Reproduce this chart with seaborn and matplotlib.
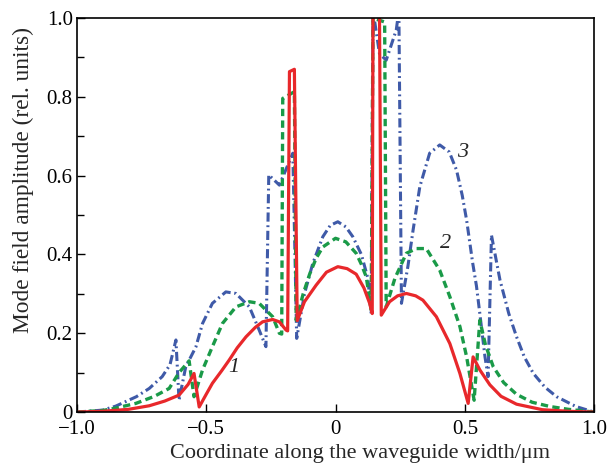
import matplotlib
matplotlib.use("Agg")
import matplotlib.pyplot as plt
import seaborn as sns
import pandas as pd
from matplotlib.ticker import MultipleLocator, FixedLocator

# ---- data ----
x1 = [-1.0, -0.9, -0.8, -0.72, -0.66, -0.605, -0.57, -0.547, -0.527, -0.5, -0.476, -0.44,
      -0.411, -0.38, -0.346, -0.31, -0.282, -0.243, -0.217, -0.191, -0.185,
      -0.178, -0.159, -0.148, -0.12, -0.075, -0.035, 0.009, 0.045, 0.08, 0.11, 0.132, 0.142,
      0.145, 0.17, 0.177, 0.209, 0.24, 0.274, 0.31, 0.338, 0.39, 0.442, 0.481, 0.513,
      0.532, 0.558, 0.597, 0.64, 0.7, 0.8, 0.9, 1.0]
y1 = [0.0, 0.002, 0.007, 0.016, 0.028, 0.043, 0.07, 0.098, 0.013, 0.045, 0.073, 0.105,
      0.132, 0.163, 0.191, 0.215, 0.229, 0.235, 0.229, 0.208, 0.206,
      0.864, 0.87, 0.232, 0.28, 0.322, 0.355, 0.369, 0.364, 0.35, 0.315, 0.276, 0.25,
      1.02, 1.02, 0.246, 0.28, 0.295, 0.301, 0.295, 0.284, 0.242, 0.174, 0.098, 0.022,
      0.14, 0.107, 0.069, 0.04, 0.02, 0.006, 0.002, 0.0]

x2 = [-1.0, -0.9, -0.85, -0.772, -0.7, -0.643, -0.605, -0.566, -0.547, -0.514, -0.476,
      -0.437, -0.385, -0.333, -0.295, -0.243, -0.217, -0.208, -0.204, -0.159, -0.152,
      -0.125, -0.1, -0.075, -0.049, 0.0, 0.04, 0.08, 0.1, 0.119, 0.138,
      0.145, 0.19, 0.196, 0.23, 0.274, 0.313, 0.351, 0.403, 0.442, 0.481, 0.507, 0.536,
      0.558, 0.58, 0.61, 0.65, 0.7, 0.76, 0.83, 0.9, 1.0]
y2 = [0.0, 0.004, 0.01, 0.022, 0.04, 0.06, 0.1, 0.13, 0.039, 0.107, 0.166,
      0.225, 0.267, 0.28, 0.276, 0.242, 0.2, 0.198, 0.796, 0.813, 0.233,
      0.3, 0.35, 0.39, 0.419, 0.441, 0.432, 0.403, 0.375, 0.343, 0.259,
      1.0, 0.99, 0.267, 0.34, 0.403, 0.415, 0.415, 0.36, 0.293, 0.217, 0.14, 0.03,
      0.233, 0.17, 0.115, 0.075, 0.045, 0.025, 0.014, 0.007, 0.0]

x3 = [-1.0, -0.9, -0.85, -0.77, -0.72, -0.67, -0.64, -0.617, -0.605, -0.579, -0.54,
      -0.514, -0.476, -0.424, -0.385, -0.333, -0.295, -0.269, -0.258, -0.217, -0.165,
      -0.15, -0.12, -0.088, -0.049, -0.02, 0.009, 0.04, 0.067, 0.1, 0.125, 0.138,
      0.145, 0.17, 0.196, 0.235, 0.245, 0.255, 0.28, 0.3, 0.326, 0.364, 0.403, 0.44,
      0.468, 0.49, 0.507, 0.53, 0.545, 0.558, 0.578, 0.59, 0.603, 0.62, 0.636, 0.67,
      0.7, 0.73, 0.765, 0.81, 0.855, 0.93, 1.0]
y3 = [0.0, 0.005, 0.015, 0.039, 0.06, 0.09, 0.12, 0.183, 0.03, 0.115, 0.165,
      0.225, 0.276, 0.305, 0.301, 0.267, 0.208, 0.166, 0.602, 0.576, 0.657,
      0.187, 0.3, 0.377, 0.445, 0.474, 0.483, 0.47, 0.445, 0.4, 0.34, 0.25,
      1.02, 0.91, 0.893, 0.97, 1.02, 0.276, 0.37, 0.462, 0.572, 0.657, 0.678, 0.66,
      0.614, 0.55, 0.487, 0.38, 0.32, 0.25, 0.14, 0.09, 0.449, 0.39, 0.335, 0.25,
      0.191, 0.14, 0.098, 0.063, 0.039, 0.014, 0.0]

curve_labels = ["1", "2", "3"]
xticks = [-1.0, -0.5, 0.0, 0.5, 1.0]
xtick_labels = ["\u22121.0", "\u22120.5", "0", "0.5", "1.0"]
yticks = [0.0, 0.2, 0.4, 0.6, 0.8, 1.0]
ytick_labels = ["0", "0.2", "0.4", "0.6", "0.8", "1.0"]

sns.set_style("ticks")
plt.rcParams["font.family"] = ["Liberation Serif", "DejaVu Serif"]

fig = plt.figure(figsize=(6.10, 4.63), dpi=100)
ax = fig.add_axes([0.126, 0.110, 0.848, 0.851])

d1 = pd.DataFrame({"x": x1, "y": y1})
d2 = pd.DataFrame({"x": x2, "y": y2})
d3 = pd.DataFrame({"x": x3, "y": y3})

sns.lineplot(data=d3, x="x", y="y", ax=ax, sort=False, estimator=None,
             color="#3f5aa8", lw=2.2, linestyle=(0, (3.0, 1.2, 0.6, 1.2)))
sns.lineplot(data=d2, x="x", y="y", ax=ax, sort=False, estimator=None,
             color="#1a9a48", lw=2.4, linestyle=(0, (2.2, 1.3)))
sns.lineplot(data=d1, x="x", y="y", ax=ax, sort=False, estimator=None,
             color="#e8282b", lw=2.3, linestyle="-")

ax.set_xlim(-1.0, 1.0)
ax.set_ylim(0.0, 1.0)
ax.xaxis.set_major_locator(FixedLocator(xticks))
ax.set_xticklabels(xtick_labels)
ax.yaxis.set_major_locator(FixedLocator(yticks))
ax.set_yticklabels(ytick_labels)
ax.yaxis.set_minor_locator(MultipleLocator(0.1))
ax.tick_params(axis="both", which="both", direction="in", labelsize=15, colors="black")
ax.tick_params(axis="both", which="major", length=6, width=1.0)
ax.tick_params(axis="y", which="minor", length=5, width=1.0)
ax.tick_params(axis="x", pad=6)
ax.tick_params(axis="y", pad=3)
for s in ax.spines.values():
    s.set_visible(True)
    s.set_color("black")
    s.set_linewidth(1.2)

ax.set_xlabel("Coordinate along the waveguide width/\u03bcm", fontsize=16)
ax.xaxis.set_label_coords(0.547, -0.104, transform=ax.transAxes)
ax.xaxis.label.set_va("center")
ax.set_ylabel("Mode field amplitude (rel. units)", fontsize=16.8)
ax.yaxis.set_label_coords(-0.104, 0.589, transform=ax.transAxes)
ax.yaxis.label.set_va("center")

lab_pos = [(-0.395, 0.114), (0.426, 0.429), (0.492, 0.66)]
for t, (lx, ly) in zip(curve_labels, lab_pos):
    ax.text(lx, ly, t, fontsize=16, style="italic", ha="center", va="center")

fig.savefig("out.png", dpi=100)
